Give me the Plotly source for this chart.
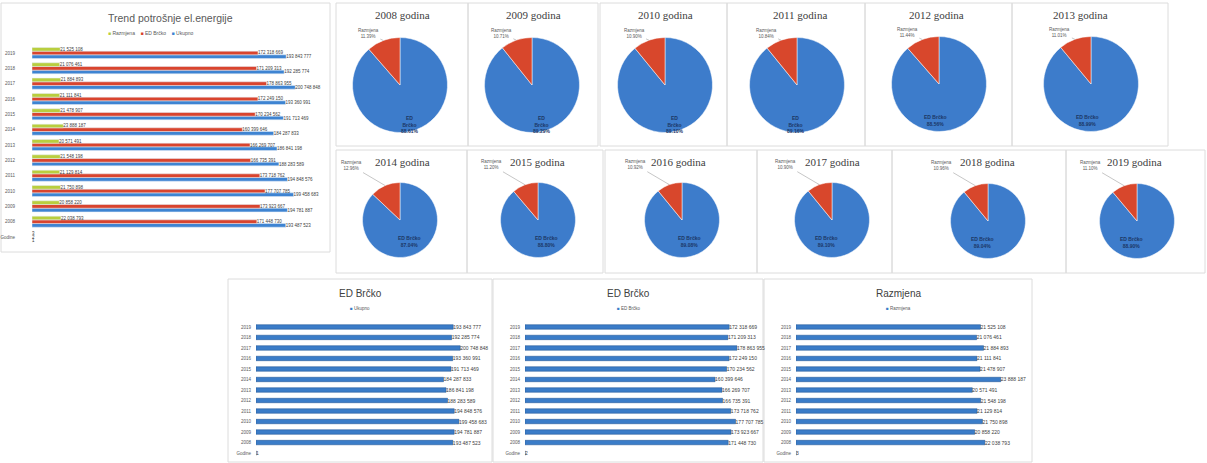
import math
import plotly.graph_objects as go

W, H = 1207, 463

# ---- data -------------------------------------------------------------
years = [str(y) for y in range(2008, 2020)]
categories = ["Godine"] + years

razmjena = [22038793, 20858220, 21750898, 21129814, 21548198, 20571491,
            23888187, 21478907, 21111841, 21884893, 21076461, 21525108]
ed_brcko = [171448730, 173923667, 177707785, 173718762, 166735391, 166269707,
            160399646, 170234562, 172249150, 178863955, 171209313, 172318669]
ukupno = [193487523, 194781887, 199458683, 194848576, 188283589, 186841198,
          184287833, 191713469, 193360991, 200748848, 192285774, 193843777]
# header row of the source table ("Godine" column numbers)
godine_ukupno, godine_ed, godine_razmjena = 1, 2, 3

C_GREEN = "#B9CE3E"
C_RED = "#D9442E"
C_BLUE = "#3E84D2"
C_BAR = "#3A7CC8"
C_PIE_BLUE = "#3D7CCB"
C_PIE_RED = "#D8472C"
GRAY = "#595959"
SANS = "Liberation Sans"
SERIF = "Liberation Serif"


def px(x):
    return x / W


def py(y):
    return 1 - y / H


fig = go.Figure()
annotations = []
shapes = []


def panel(x0, y0, x1, y1):
    shapes.append(dict(type="rect", xref="paper", yref="paper",
                       x0=px(x0), x1=px(x1), y0=py(y1), y1=py(y0),
                       line=dict(color="#DCDCDC", width=1), layer="below"))


def text(x, y, s, size, color=GRAY, family=SANS):
    annotations.append(dict(x=px(x), y=py(y), xref="paper", yref="paper",
                            text=s, showarrow=False, xanchor="center", yanchor="middle",
                            font=dict(size=size, color=color, family=family)))


# ---- left: trend chart --------------------------------------------------
panel(1, 3, 330, 252)
text(170, 18, "Trend potrošnje el.energije", 10.5)
text(150, 33, f"<span style='color:{C_GREEN}'>■</span> Razmjena    "
              f"<span style='color:{C_RED}'>■</span> ED Brčko    "
              f"<span style='color:{C_BLUE}'>■</span> Ukupno", 5)

for name, vals, g, col in [("Ukupno", ukupno, godine_ukupno, C_BLUE),
                           ("ED Brčko", ed_brcko, godine_ed, C_RED),
                           ("Razmjena", razmjena, godine_razmjena, C_GREEN)]:
    fig.add_trace(go.Bar(
        x=[g] + vals, y=categories, orientation="h", name=name,
        marker=dict(color=col), texttemplate="%{x:,.0f}", textposition="outside",
        textfont=dict(size=4.5, color="#404040", family=SANS),
        constraintext="none", cliponaxis=False, showlegend=False,
        xaxis="x", yaxis="y", hoverinfo="skip"))

# ---- bottom: single-series bar charts -----------------------------------
bottom = [
    ("ED Brčko", "Ukupno", ukupno, godine_ukupno, (228, 492), (256, 490), 230e6, 2),
    ("ED Brčko", "ED Brčko", ed_brcko, godine_ed, (493, 763), (525, 762), 200e6, 3),
    ("Razmjena", "Razmjena", razmjena, godine_razmjena, (764, 1032), (796, 1030), 27.3e6, 4),
]
for title, sub, vals, g, (p0, p1), (d0, d1), xmax, k in bottom:
    panel(p0, 279, p1, 462)
    cx = (p0 + p1) / 2
    text(cx, 293, title, 10, color="#404040")
    text(cx, 308, f"<span style='color:{C_BAR}'>■</span> {sub}", 4.5)
    fig.add_trace(go.Bar(
        x=[g] + vals, y=categories, orientation="h", width=0.42,
        marker=dict(color=C_BAR, line=dict(color="#2A5D9A", width=0.6)),
        texttemplate="%{x:,.0f}", textposition="outside",
        textfont=dict(size=5, color="#404040", family=SANS),
        constraintext="none", cliponaxis=False, showlegend=False,
        xaxis=f"x{k}", yaxis=f"y{k}", hoverinfo="skip"))
    fig.layout[f"xaxis{k}"] = dict(domain=[px(d0), px(d1)], range=[0, xmax],
                                   visible=False, anchor=f"y{k}")
    fig.layout[f"yaxis{k}"] = dict(domain=[py(458.3), py(321.7)], type="category",
                                   categoryorder="array", categoryarray=categories,
                                   anchor=f"x{k}", showgrid=False, zeroline=False,
                                   ticks="", ticklabelstandoff=4,
                                   tickfont=dict(size=4.5, color=GRAY, family=SANS))

# ---- pies: yearly share of ED Brčko vs Razmjena --------------------------
top_row = [(400, 85), (532, 85), (665, 85), (797, 85), (939, 84), (1091, 84)]
second_row = [(400, 220), (538, 220), (682, 220), (832, 220), (988, 221), (1137, 221)]
top_titles_x = [402, 533, 665, 800, 937, 1080]
second_titles_x = [402, 537, 678, 832, 987, 1134]
top_panels = [(336, 468), (468, 598), (600, 727), (727, 865), (865, 1012), (1012, 1168)]
second_panels = [(336, 467), (467, 603), (605, 757), (757, 892), (892, 1066), (1066, 1205)]

for i, year in enumerate(years):
    if i < 6:
        cx, cy = top_row[i]
        r = 47.5
        tx, ty = top_titles_x[i], 15
        p0, p1 = top_panels[i]
        panel(p0, 3, p1, 146)
        off = (-15, -7)
    else:
        cx, cy = second_row[i - 6]
        r = 37.5
        tx, ty = second_titles_x[i - 6], 162
        p0, p1 = second_panels[i - 6]
        panel(p0, 150, p1, 273)
        off = (-34, -20)
    fig.add_trace(go.Pie(
        values=[ed_brcko[i], razmjena[i]], labels=["ED Brčko", "Razmjena"],
        marker=dict(colors=[C_PIE_BLUE, C_PIE_RED], line=dict(color="#FFFFFF", width=0.5)),
        direction="clockwise", sort=False, rotation=0,
        domain=dict(x=[px(cx - r), px(cx + r)], y=[py(cy + r), py(cy - r)]),
        textinfo="none", showlegend=False, hoverinfo="skip"))
    text(tx, ty, f"{year} godina", 11, color="#404040", family=SERIF)

    share = razmjena[i] / (razmjena[i] + ed_brcko[i])

    # ED Brčko label inside its slice, along the slice's middle angle
    mid = math.pi * (1 - share)
    lx, ly = cx + 0.62 * r * math.sin(mid), cy - 0.62 * r * math.cos(mid)
    ed_name = "ED<br>Brčko" if i < 4 else "ED Brčko"
    annotations.append(dict(
        x=px(lx), y=py(ly), xref="paper", yref="paper", showarrow=False,
        text=f"<b>{ed_name}<br>{(1 - share) * 100:.2f}%</b>",
        font=dict(size=5, color="#1C3766", family=SANS)))

    # Razmjena label with a leader line to the middle of its slice
    ang = -share * math.pi
    ex, ey = cx + r * math.sin(ang), cy - r * math.cos(ang)
    annotations.append(dict(
        x=px(ex), y=py(ey), xref="paper", yref="paper",
        text=f"Razmjena<br>{share * 100:.2f}%", showarrow=True, arrowhead=0,
        arrowwidth=0.6, arrowcolor="#A0A0A0", ax=off[0], ay=off[1],
        font=dict(size=4.5, color=GRAY, family=SANS)))

fig.update_layout(
    width=W, height=H, margin=dict(l=0, r=0, t=0, b=0),
    paper_bgcolor="white", plot_bgcolor="white",
    separators=". ", barmode="group", bargap=0.28, bargroupgap=0,
    showlegend=False,
    xaxis=dict(domain=[px(32), px(310)], range=[0, 212e6], visible=False, anchor="y"),
    yaxis=dict(domain=[py(244.7), py(45.3)], type="category", categoryorder="array",
               categoryarray=categories, anchor="x", showgrid=False, zeroline=False,
               ticks="", ticklabelstandoff=16,
               tickfont=dict(size=4.5, color=GRAY, family=SANS)),
    annotations=annotations, shapes=shapes,
)

fig.write_html("out.html")
